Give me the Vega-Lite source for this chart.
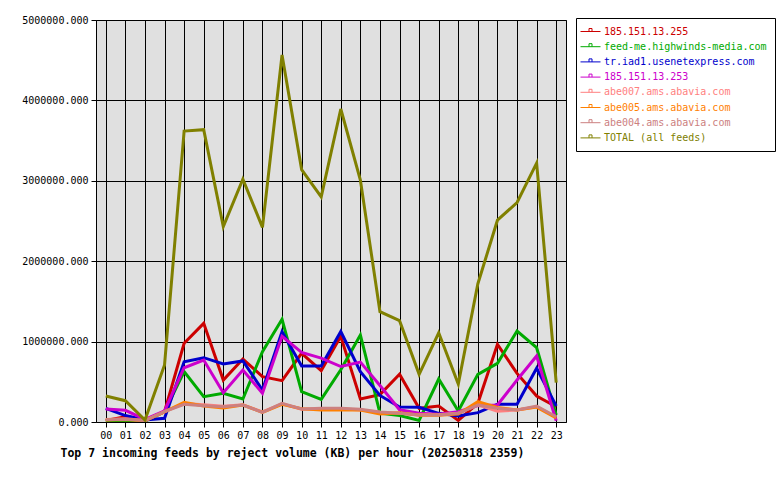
{
  "$schema": "https://vega.github.io/schema/vega-lite/v6.json",
  "width": 470,
  "height": 402,
  "autosize": {"type": "none"},
  "padding": {"left": 96, "top": 20, "right": 214, "bottom": 58},
  "background": "white",
  "config": {
    "view": {"fill": "#e0e0e0", "stroke": "black", "strokeWidth": 1},
    "font": "DejaVu Sans Mono"
  },
  "data": {
    "values": [
      {"h":"00","f":"185.151.13.255","v":20000},{"h":"01","f":"185.151.13.255","v":66000},{"h":"02","f":"185.151.13.255","v":20000},{"h":"03","f":"185.151.13.255","v":128000},{"h":"04","f":"185.151.13.255","v":979000},{"h":"05","f":"185.151.13.255","v":1227000},{"h":"06","f":"185.151.13.255","v":522000},{"h":"07","f":"185.151.13.255","v":783000},{"h":"08","f":"185.151.13.255","v":564000},{"h":"09","f":"185.151.13.255","v":514000},{"h":"10","f":"185.151.13.255","v":854000},{"h":"11","f":"185.151.13.255","v":640000},{"h":"12","f":"185.151.13.255","v":1065000},{"h":"13","f":"185.151.13.255","v":286000},{"h":"14","f":"185.151.13.255","v":340000},{"h":"15","f":"185.151.13.255","v":593000},{"h":"16","f":"185.151.13.255","v":170000},{"h":"17","f":"185.151.13.255","v":199000},{"h":"18","f":"185.151.13.255","v":20000},{"h":"19","f":"185.151.13.255","v":233000},{"h":"20","f":"185.151.13.255","v":966000},{"h":"21","f":"185.151.13.255","v":605000},{"h":"22","f":"185.151.13.255","v":323000},{"h":"23","f":"185.151.13.255","v":190000},
      {"h":"00","f":"feed-me.highwinds-media.com","v":15000},{"h":"01","f":"feed-me.highwinds-media.com","v":20000},{"h":"02","f":"feed-me.highwinds-media.com","v":10000},{"h":"03","f":"feed-me.highwinds-media.com","v":130000},{"h":"04","f":"feed-me.highwinds-media.com","v":626000},{"h":"05","f":"feed-me.highwinds-media.com","v":315000},{"h":"06","f":"feed-me.highwinds-media.com","v":357000},{"h":"07","f":"feed-me.highwinds-media.com","v":286000},{"h":"08","f":"feed-me.highwinds-media.com","v":874000},{"h":"09","f":"feed-me.highwinds-media.com","v":1277000},{"h":"10","f":"feed-me.highwinds-media.com","v":377000},{"h":"11","f":"feed-me.highwinds-media.com","v":282000},{"h":"12","f":"feed-me.highwinds-media.com","v":650000},{"h":"13","f":"feed-me.highwinds-media.com","v":1082000},{"h":"14","f":"feed-me.highwinds-media.com","v":110000},{"h":"15","f":"feed-me.highwinds-media.com","v":80000},{"h":"16","f":"feed-me.highwinds-media.com","v":20000},{"h":"17","f":"feed-me.highwinds-media.com","v":535000},{"h":"18","f":"feed-me.highwinds-media.com","v":137000},{"h":"19","f":"feed-me.highwinds-media.com","v":593000},{"h":"20","f":"feed-me.highwinds-media.com","v":730000},{"h":"21","f":"feed-me.highwinds-media.com","v":1132000},{"h":"22","f":"feed-me.highwinds-media.com","v":924000},{"h":"23","f":"feed-me.highwinds-media.com","v":87000},
      {"h":"00","f":"tr.iad1.usenetexpress.com","v":170000},{"h":"01","f":"tr.iad1.usenetexpress.com","v":80000},{"h":"02","f":"tr.iad1.usenetexpress.com","v":25000},{"h":"03","f":"tr.iad1.usenetexpress.com","v":46000},{"h":"04","f":"tr.iad1.usenetexpress.com","v":750000},{"h":"05","f":"tr.iad1.usenetexpress.com","v":800000},{"h":"06","f":"tr.iad1.usenetexpress.com","v":721000},{"h":"07","f":"tr.iad1.usenetexpress.com","v":759000},{"h":"08","f":"tr.iad1.usenetexpress.com","v":398000},{"h":"09","f":"tr.iad1.usenetexpress.com","v":1123000},{"h":"10","f":"tr.iad1.usenetexpress.com","v":697000},{"h":"11","f":"tr.iad1.usenetexpress.com","v":697000},{"h":"12","f":"tr.iad1.usenetexpress.com","v":1125000},{"h":"13","f":"tr.iad1.usenetexpress.com","v":626000},{"h":"14","f":"tr.iad1.usenetexpress.com","v":330000},{"h":"15","f":"tr.iad1.usenetexpress.com","v":185000},{"h":"16","f":"tr.iad1.usenetexpress.com","v":183000},{"h":"17","f":"tr.iad1.usenetexpress.com","v":108000},{"h":"18","f":"tr.iad1.usenetexpress.com","v":75000},{"h":"19","f":"tr.iad1.usenetexpress.com","v":116000},{"h":"20","f":"tr.iad1.usenetexpress.com","v":220000},{"h":"21","f":"tr.iad1.usenetexpress.com","v":220000},{"h":"22","f":"tr.iad1.usenetexpress.com","v":668000},{"h":"23","f":"tr.iad1.usenetexpress.com","v":199000},
      {"h":"00","f":"185.151.13.253","v":162000},{"h":"01","f":"185.151.13.253","v":145000},{"h":"02","f":"185.151.13.253","v":34000},{"h":"03","f":"185.151.13.253","v":137000},{"h":"04","f":"185.151.13.253","v":675000},{"h":"05","f":"185.151.13.253","v":771000},{"h":"06","f":"185.151.13.253","v":364000},{"h":"07","f":"185.151.13.253","v":647000},{"h":"08","f":"185.151.13.253","v":357000},{"h":"09","f":"185.151.13.253","v":1065000},{"h":"10","f":"185.151.13.253","v":866000},{"h":"11","f":"185.151.13.253","v":795000},{"h":"12","f":"185.151.13.253","v":690000},{"h":"13","f":"185.151.13.253","v":745000},{"h":"14","f":"185.151.13.253","v":455000},{"h":"15","f":"185.151.13.253","v":152000},{"h":"16","f":"185.151.13.253","v":108000},{"h":"17","f":"185.151.13.253","v":96000},{"h":"18","f":"185.151.13.253","v":128000},{"h":"19","f":"185.151.13.253","v":203000},{"h":"20","f":"185.151.13.253","v":211000},{"h":"21","f":"185.151.13.253","v":522000},{"h":"22","f":"185.151.13.253","v":821000},{"h":"23","f":"185.151.13.253","v":16000},
      {"h":"00","f":"abe007.ams.abavia.com","v":30000},{"h":"01","f":"abe007.ams.abavia.com","v":40000},{"h":"02","f":"abe007.ams.abavia.com","v":20000},{"h":"03","f":"abe007.ams.abavia.com","v":130000},{"h":"04","f":"abe007.ams.abavia.com","v":230000},{"h":"05","f":"abe007.ams.abavia.com","v":215000},{"h":"06","f":"abe007.ams.abavia.com","v":195000},{"h":"07","f":"abe007.ams.abavia.com","v":215000},{"h":"08","f":"abe007.ams.abavia.com","v":125000},{"h":"09","f":"abe007.ams.abavia.com","v":225000},{"h":"10","f":"abe007.ams.abavia.com","v":160000},{"h":"11","f":"abe007.ams.abavia.com","v":165000},{"h":"12","f":"abe007.ams.abavia.com","v":165000},{"h":"13","f":"abe007.ams.abavia.com","v":150000},{"h":"14","f":"abe007.ams.abavia.com","v":120000},{"h":"15","f":"abe007.ams.abavia.com","v":110000},{"h":"16","f":"abe007.ams.abavia.com","v":90000},{"h":"17","f":"abe007.ams.abavia.com","v":90000},{"h":"18","f":"abe007.ams.abavia.com","v":110000},{"h":"19","f":"abe007.ams.abavia.com","v":215000},{"h":"20","f":"abe007.ams.abavia.com","v":135000},{"h":"21","f":"abe007.ams.abavia.com","v":150000},{"h":"22","f":"abe007.ams.abavia.com","v":190000},{"h":"23","f":"abe007.ams.abavia.com","v":60000},
      {"h":"00","f":"abe005.ams.abavia.com","v":25000},{"h":"01","f":"abe005.ams.abavia.com","v":30000},{"h":"02","f":"abe005.ams.abavia.com","v":15000},{"h":"03","f":"abe005.ams.abavia.com","v":125000},{"h":"04","f":"abe005.ams.abavia.com","v":245000},{"h":"05","f":"abe005.ams.abavia.com","v":200000},{"h":"06","f":"abe005.ams.abavia.com","v":175000},{"h":"07","f":"abe005.ams.abavia.com","v":210000},{"h":"08","f":"abe005.ams.abavia.com","v":120000},{"h":"09","f":"abe005.ams.abavia.com","v":220000},{"h":"10","f":"abe005.ams.abavia.com","v":165000},{"h":"11","f":"abe005.ams.abavia.com","v":150000},{"h":"12","f":"abe005.ams.abavia.com","v":150000},{"h":"13","f":"abe005.ams.abavia.com","v":150000},{"h":"14","f":"abe005.ams.abavia.com","v":100000},{"h":"15","f":"abe005.ams.abavia.com","v":115000},{"h":"16","f":"abe005.ams.abavia.com","v":85000},{"h":"17","f":"abe005.ams.abavia.com","v":85000},{"h":"18","f":"abe005.ams.abavia.com","v":100000},{"h":"19","f":"abe005.ams.abavia.com","v":253000},{"h":"20","f":"abe005.ams.abavia.com","v":180000},{"h":"21","f":"abe005.ams.abavia.com","v":150000},{"h":"22","f":"abe005.ams.abavia.com","v":185000},{"h":"23","f":"abe005.ams.abavia.com","v":50000},
      {"h":"00","f":"abe004.ams.abavia.com","v":28000},{"h":"01","f":"abe004.ams.abavia.com","v":35000},{"h":"02","f":"abe004.ams.abavia.com","v":18000},{"h":"03","f":"abe004.ams.abavia.com","v":128000},{"h":"04","f":"abe004.ams.abavia.com","v":220000},{"h":"05","f":"abe004.ams.abavia.com","v":203000},{"h":"06","f":"abe004.ams.abavia.com","v":190000},{"h":"07","f":"abe004.ams.abavia.com","v":211000},{"h":"08","f":"abe004.ams.abavia.com","v":120000},{"h":"09","f":"abe004.ams.abavia.com","v":233000},{"h":"10","f":"abe004.ams.abavia.com","v":162000},{"h":"11","f":"abe004.ams.abavia.com","v":170000},{"h":"12","f":"abe004.ams.abavia.com","v":170000},{"h":"13","f":"abe004.ams.abavia.com","v":158000},{"h":"14","f":"abe004.ams.abavia.com","v":124000},{"h":"15","f":"abe004.ams.abavia.com","v":108000},{"h":"16","f":"abe004.ams.abavia.com","v":87000},{"h":"17","f":"abe004.ams.abavia.com","v":87000},{"h":"18","f":"abe004.ams.abavia.com","v":108000},{"h":"19","f":"abe004.ams.abavia.com","v":211000},{"h":"20","f":"abe004.ams.abavia.com","v":170000},{"h":"21","f":"abe004.ams.abavia.com","v":149000},{"h":"22","f":"abe004.ams.abavia.com","v":199000},{"h":"23","f":"abe004.ams.abavia.com","v":66000},
      {"h":"00","f":"TOTAL (all feeds)","v":323000},{"h":"01","f":"TOTAL (all feeds)","v":265000},{"h":"02","f":"TOTAL (all feeds)","v":25000},{"h":"03","f":"TOTAL (all feeds)","v":709000},{"h":"04","f":"TOTAL (all feeds)","v":3619000},{"h":"05","f":"TOTAL (all feeds)","v":3636000},{"h":"06","f":"TOTAL (all feeds)","v":2430000},{"h":"07","f":"TOTAL (all feeds)","v":3020000},{"h":"08","f":"TOTAL (all feeds)","v":2420000},{"h":"09","f":"TOTAL (all feeds)","v":4565000},{"h":"10","f":"TOTAL (all feeds)","v":3140000},{"h":"11","f":"TOTAL (all feeds)","v":2800000},{"h":"12","f":"TOTAL (all feeds)","v":3893000},{"h":"13","f":"TOTAL (all feeds)","v":3010000},{"h":"14","f":"TOTAL (all feeds)","v":1372000},{"h":"15","f":"TOTAL (all feeds)","v":1260000},{"h":"16","f":"TOTAL (all feeds)","v":593000},{"h":"17","f":"TOTAL (all feeds)","v":1110000},{"h":"18","f":"TOTAL (all feeds)","v":473000},{"h":"19","f":"TOTAL (all feeds)","v":1720000},{"h":"20","f":"TOTAL (all feeds)","v":2510000},{"h":"21","f":"TOTAL (all feeds)","v":2730000},{"h":"22","f":"TOTAL (all feeds)","v":3220000},{"h":"23","f":"TOTAL (all feeds)","v":489000}
    ]
  },
  "mark": {"type": "line", "strokeWidth": 3, "clip": true},
  "encoding": {
    "x": {
      "field": "h", "type": "ordinal",
      "scale": {"type": "point", "padding": 0.5},
      "axis": {
        "title": "Top 7 incoming feeds by reject volume (KB) per hour (20250318 2359)",
        "titleFont": "DejaVu Sans Mono", "titleFontWeight": "bold", "titleFontSize": 11.5,
        "titleColor": "black", "titleAnchor": "start", "titleAlign": "left",
        "titleX": -36, "titleY": 34, "titleBaseline": "alphabetic",
        "labelAngle": 0, "labelFont": "DejaVu Sans Mono", "labelFontSize": 10, "labelColor": "black",
        "labelPadding": 3, "tickColor": "black", "tickSize": 5, "domain": false,
        "grid": true, "gridColor": "black", "gridOpacity": 1, "gridWidth": 1
      }
    },
    "y": {
      "field": "v", "type": "quantitative",
      "scale": {"domain": [0, 5000000], "nice": false},
      "axis": {
        "title": null, "values": [0, 1000000, 2000000, 3000000, 4000000, 5000000],
        "format": ".3f", "labelFont": "DejaVu Sans Mono", "labelFontSize": 10, "labelColor": "black",
        "labelPadding": 3, "tickColor": "black", "tickSize": 5, "domain": false,
        "grid": true, "gridColor": "black", "gridOpacity": 1, "gridWidth": 1
      }
    },
    "color": {
      "field": "f", "type": "nominal",
      "scale": {
        "domain": ["185.151.13.255", "feed-me.highwinds-media.com", "tr.iad1.usenetexpress.com", "185.151.13.253", "abe007.ams.abavia.com", "abe005.ams.abavia.com", "abe004.ams.abavia.com", "TOTAL (all feeds)"],
        "range": ["#cc0000", "#00aa00", "#0000cc", "#cc00cc", "#ff8080", "#ff8000", "#cc8080", "#808000"]
      },
      "legend": {
        "title": null, "orient": "none", "legendX": 480, "legendY": -2,
        "strokeColor": "black", "fillColor": "white", "padding": 8,
        "labelFont": "DejaVu Sans Mono", "labelFontSize": 10, "labelLimit": 0,
        "symbolType": "M-2,0H2M-0.3,0V-0.6H0.3V0", "symbolSize": 100, "symbolStrokeWidth": 1,
        "symbolFillColor": "transparent", "symbolOffset": 1, "labelOffset": 8, "rowPadding": 4.2,
        "encode": {"labels": {"update": {"fill": {"scale": "color", "field": "value"}}}}
      }
    }
  }
}
